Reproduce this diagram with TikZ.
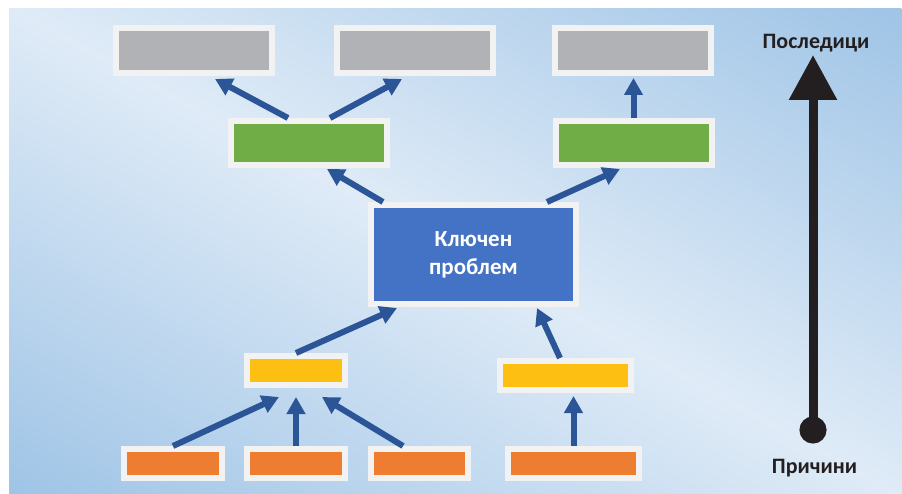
\documentclass[tikz,border=0pt]{standalone}
\usepackage{fontspec}
\setmainfont{Carlito}
\usetikzlibrary{arrows.meta,positioning,calc,shadows}
\definecolor{bgdark}{HTML}{9FC4E6}
\definecolor{bglight}{HTML}{DFEBF7}
\definecolor{frame}{HTML}{F2F2F2}
\definecolor{boxgray}{HTML}{B1B2B6}
\definecolor{boxgreen}{HTML}{70AD47}
\definecolor{boxblue}{HTML}{4472C4}
\definecolor{boxyellow}{HTML}{FDC012}
\definecolor{boxorange}{HTML}{EE7D31}
\definecolor{arrowblue}{HTML}{2B5597}
\definecolor{textdark}{HTML}{231F20}

\tikzset{
  box/.style={draw=frame, line width=6pt, inner sep=0pt,
    drop shadow={shadow xshift=2pt, shadow yshift=-2.5pt, opacity=0.4, fill=black!70}},
  widebox/.style={box, minimum width=156pt, minimum height=45pt},
  smallbox/.style={box, minimum width=98pt, minimum height=29pt},
  link/.style={draw=arrowblue, line width=6pt, -{Triangle[length=17pt,width=18pt]}},
  sidelabel/.style={font=\bfseries\fontsize{22}{26}\selectfont, text=textdark, anchor=base},
}

\begin{document}
\begin{tikzpicture}[x=1pt, y=-1pt]
  \useasboundingbox (0,0) rectangle (902,494);
  \fill[white] (0,0) rectangle (902,494);
  \begin{scope}
    \clip (9,9) rectangle (902,494);
    \begin{scope}[transform canvas={rotate around={-28.7:(455,251)}}]
      \shade[top color=bgdark, bottom color=bgdark, middle color=bglight]
        (-245,-176) rectangle (1155,678);
    \end{scope}
  \end{scope}
  %% consequences
  \node[widebox, fill=boxgray] (gray1) at (194,50.5) {};
  \node[widebox, fill=boxgray] (gray2) at (415,50.5) {};
  \node[widebox, fill=boxgray] (gray3) at (633,50.5) {};
  \node[widebox, fill=boxgreen, minimum height=44pt] (green1) at (308.5,143) {};
  \node[widebox, fill=boxgreen, minimum height=44pt] (green2) at (633.5,143) {};
  %% key problem
  \node[box, fill=boxblue, minimum width=205pt, minimum height=99pt, align=center,
    text=white, font=\bfseries\fontsize{23}{28}\selectfont] (problem) at (473.5,254.5) {Ключен\\проблем};
  %% causes
  \node[smallbox, fill=boxyellow] (yellow1) at (296,370.5) {};
  \node[smallbox, fill=boxyellow, minimum width=131pt] (yellow2) at (565.5,375.5) {};
  \node[smallbox, fill=boxorange] (orange1) at (173,463.5) {};
  \node[smallbox, fill=boxorange] (orange2) at (296,463.5) {};
  \node[smallbox, fill=boxorange, minimum width=97pt] (orange3) at (419.5,463.5) {};
  \node[smallbox, fill=boxorange, minimum width=131pt] (orange4) at (573.5,463.5) {};
  %% links
  \draw[link] ($(green1.north)+(-20.5,0)$) -- ($(gray1.south)+(21,3)$);
  \draw[link] ($(green1.north)+(21.5,0)$) -- ($(gray2.south)+(-13,3)$);
  \draw[link] (green2.north) -- ($(gray3.south)+(0.5,2)$);
  \draw[link] ($(problem.north west)+(15,0)$) -- ($(green1.south)+(18.5,1)$);
  \draw[link] ($(problem.north east)+(-32,0)$) -- ($(green2.south)+(-13.5,1)$);
  \draw[link] (yellow1.north) -- ($(problem.south west)+(29,1)$);
  \draw[link] ($(yellow2.north)+(-5.5,0)$) -- ($(problem.south east)+(-42,1)$);
  \draw[link] (orange1.north) -- ($(yellow1.south)+(-17,9)$);
  \draw[link] (orange2.north) -- ($(yellow1.south)+(0,9)$);
  \draw[link] ($(orange3.north)+(-16.5,0)$) -- ($(yellow1.south)+(26,9)$);
  \draw[link] (orange4.north) -- ($(yellow2.south)+(8,3)$);
  %% cause -> effect axis
  \node[sidelabel] (effects) at (816,49) {Последици};
  \node[sidelabel] (causes) at (814.5,473) {Причини};
  \coordinate (axisbottom) at (813,443.5);
  \coordinate (axistop) at (813,55);
  \draw[textdark, line width=9pt, {Circle[length=27pt]}-{Triangle[length=45pt,width=46pt]}]
    (axisbottom) -- (axistop);
\end{tikzpicture}
\end{document}
